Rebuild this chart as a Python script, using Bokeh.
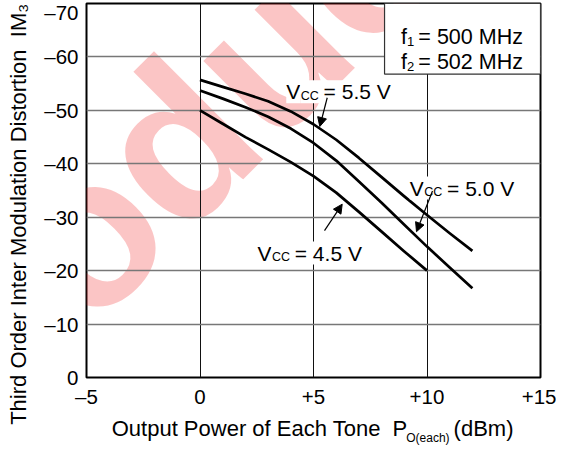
import math
from bokeh.plotting import figure
from bokeh.models import (Range1d, FixedTicker, Label, Arrow, NormalHead, BoxAnnotation,
                          LinearAxis, AllLabels)
from bokeh.embed import file_html
from bokeh.resources import INLINE

# ---- data ----
power_55 = [0, 1, 2, 3, 4, 5, 6, 7, 8, 9, 10, 11, 12]
im3_55 = [-55.7, -54.4, -53.1, -51.7, -49.8, -47.4, -44.5, -41.1, -37.5, -33.9, -30.4, -27.0, -23.7]
power_50 = [0, 1, 2, 3, 4, 5, 6, 7, 8, 9, 10, 11, 12]
im3_50 = [-53.7, -52.2, -50.6, -48.8, -46.6, -43.9, -40.6, -36.7, -32.7, -28.6, -24.5, -20.6, -16.7]
power_45 = [0, 1, 2, 3, 4, 5, 6, 7, 8, 9, 10]
im3_45 = [-50.0, -47.5, -45.0, -42.7, -40.3, -37.7, -34.6, -31.0, -27.3, -23.6, -20.0]

x_ticks = [-5, 0, 5, 10, 15]
x_tick_labels = ["\u20135", "0", "+5", "+10", "+15"]
y_ticks = [0, -10, -20, -30, -40, -50, -60, -70]
y_tick_labels = ["0", "\u201310", "\u201320", "\u201330", "\u201340", "\u201350", "\u201360", "\u201370"]
x_grid = [0, 5, 10]
y_grid = [-10, -20, -30, -40, -50, -60]

x_title_main = "Output Power of Each Tone \u00a0P"
x_title_sub = "O(each)"
x_title_unit = "(dBm)"
y_title = "Third Order Inter Modulation Distortion \u00a0IM\u2083 (dB)"

FONT = "Liberation Sans"

p = figure(width=556, height=447, x_range=Range1d(-5, 15), y_range=Range1d(0, -70),
           output_backend="svg", toolbar_location=None,
           min_border_left=86, min_border_right=16, min_border_top=3, min_border_bottom=40)
p.background_fill_color = "white"
p.border_fill_color = "white"
p.outline_line_color = "black"
p.outline_line_width = 2

# watermark
p.add_layout(Label(x=-1.45, y=-42.3, text="product", angle=math.pi / 4,
                   text_align="center", text_baseline="middle",
                   text_font=FONT, text_font_style="bold", text_font_size="212px",
                   text_color="#f03030", text_alpha=0.28, level="image"))


def style_axis(ax, size):
    ax.axis_line_color = None
    ax.major_tick_line_color = None
    ax.minor_tick_line_color = None
    ax.major_tick_out = 0
    ax.major_tick_in = 0
    ax.major_label_text_font = FONT
    ax.major_label_text_font_size = size
    ax.major_label_text_color = "black"
    ax.major_label_policy = AllLabels()


style_axis(p.xaxis[0], "20.5px")
style_axis(p.yaxis[0], "20.5px")
p.xaxis.ticker = FixedTicker(ticks=x_ticks)
p.xaxis.major_label_overrides = {t: s for t, s in zip(x_ticks, x_tick_labels)}
p.xaxis.major_label_standoff = 7
p.yaxis.ticker = FixedTicker(ticks=y_ticks)
p.yaxis.major_label_overrides = {t: s for t, s in zip(y_ticks, y_tick_labels)}
p.yaxis.major_label_standoff = 8
p.yaxis.axis_label = y_title
p.yaxis.axis_label_text_font = FONT
p.yaxis.axis_label_text_font_size = "22px"
p.yaxis.axis_label_text_font_style = "normal"
p.yaxis.axis_label_text_color = "black"
p.yaxis.axis_label_standoff = 10

# x-axis title pieces, drawn as tick labels of extra axes
title_ticks_a = [2.63, 12.49]
ax_a = LinearAxis(ticker=FixedTicker(ticks=title_ticks_a),
                  major_label_overrides={title_ticks_a[0]: x_title_main, title_ticks_a[1]: x_title_unit})
style_axis(ax_a, "22px")
ax_a.major_label_standoff = 5
p.add_layout(ax_a, "below")
title_ticks_b = [10.04]
ax_b = LinearAxis(ticker=FixedTicker(ticks=title_ticks_b),
                  major_label_overrides={title_ticks_b[0]: x_title_sub})
style_axis(ax_b, "12px")
ax_b.major_label_standoff = -13
p.add_layout(ax_b, "below")

p.xgrid.ticker = FixedTicker(ticks=x_grid)
p.xgrid.grid_line_color = "#111111"
p.xgrid.grid_line_width = 1
p.ygrid.ticker = FixedTicker(ticks=y_grid)
p.ygrid.grid_line_color = "#777777"
p.ygrid.grid_line_width = 1.3

# curves
for xs, ys in ((power_55, im3_55), (power_50, im3_50), (power_45, im3_45)):
    p.line(xs, ys, line_color="black", line_width=2.7, line_join="round")


def lab(x, y, text, size, **kw):
    p.add_layout(Label(x=x, y=y, text=text, text_font=FONT, text_font_size=size,
                       text_color="black", text_baseline="alphabetic", **kw))


# frequency box
p.add_layout(BoxAnnotation(left=8.13, right=15, top=-70, bottom=-56.8,
                           fill_color="white", fill_alpha=1.0,
                           line_color="#333333", line_width=1.2, line_alpha=1.0))
lab(8.86, -63.69, "f", "21.5px")
lab(9.12, -62.9, "1", "13px")
lab(9.62, -63.69, "= 500 MHz", "21.5px")
lab(8.86, -59.05, "f", "21.5px")
lab(9.12, -58.26, "2", "13px")
lab(9.62, -59.05, "= 502 MHz", "21.5px")

# Vcc labels: white box behind the whole label, small "CC" drawn on top
for (xv, y, txt) in ((3.80, -53.48, "\u00a0\u00a0\u00a0\u00a0= 5.5 V"),
                     (9.24, -35.46, "\u00a0\u00a0\u00a0\u00a0= 5.0 V"),
                     (2.53, -23.30, "\u00a0\u00a0\u00a0\u00a0= 4.5 V")):
    lab(xv, y, "V", "21px", background_fill_color="white")
    lab(xv + 0.617, y, txt, "21px", background_fill_color="white")
    lab(xv + 0.64, y + 0.75, "CC", "12.5px")

# arrows
for (xs, ys, xe, ye) in ((5.604, -52.36, 5.278, -46.98),
                         (10.242, -34.91, 9.537, -27.29),
                         (5.485, -27.48, 6.264, -32.44)):
    p.add_layout(Arrow(end=NormalHead(size=9, fill_color="black", line_color="black"),
                       x_start=xs, y_start=ys, x_end=xe, y_end=ye,
                       line_color="black", line_width=1.2))

open("out.html", "w").write(file_html(p, INLINE))
